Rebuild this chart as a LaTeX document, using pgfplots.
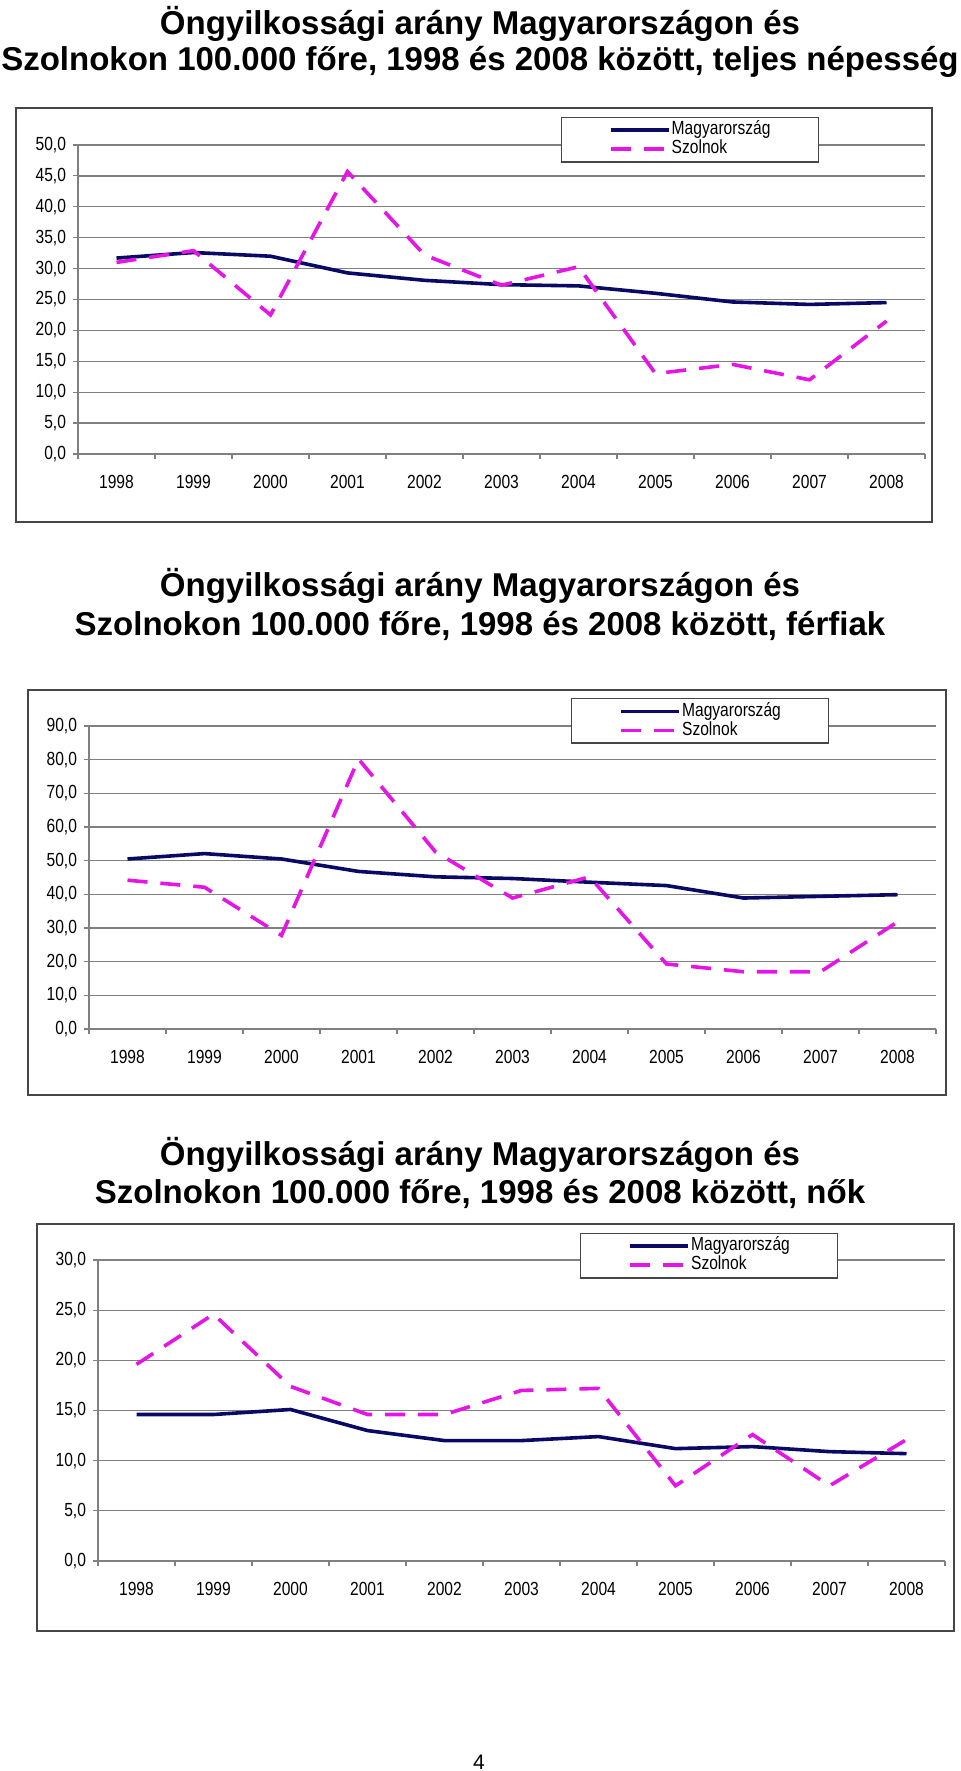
\documentclass[border=0pt]{standalone}
\usepackage{fontspec}
\setmainfont{Liberation Sans}
\newfontfamily\narrow{Liberation Sans}[FakeStretch=0.82]
\usepackage{pgfplots}
\pgfplotsset{compat=1.18}

\definecolor{navyline}{RGB}{10,10,100}
\definecolor{pinkline}{RGB}{230,20,230}
\definecolor{gridc}{RGB}{128,128,128}
\definecolor{framec}{RGB}{70,70,70}

\pgfplotsset{
  excelchart/.style={
    scale only axis,
    anchor=south west,
    width=423.5pt,
    xmin=0.5, xmax=11.5, ymin=0,
    axis x line*=bottom, axis y line*=left,
    axis line style={gridc, line width=0.7pt},
    ymajorgrids, grid style={gridc, line width=0.65pt},
    tick align=outside,
    major tick length=2.5pt, minor tick length=2.5pt,
    xtick={1,...,11},
    xticklabels={1998,1999,2000,2001,2002,2003,2004,2005,2006,2007,2008},
    minor xtick={0.5,1.5,...,11.5},
    major x tick style={draw=none},
    minor x tick style={gridc, line width=0.6pt},
    ytick style={gridc, line width=0.6pt},
    xticklabel style={font=\narrow\fontsize{9.5}{10}\selectfont, anchor=center, yshift=-11.5pt},
    yticklabel style={font=\narrow\fontsize{9.5}{10}\selectfont},
    /pgf/number format/.cd, fixed, zerofill, precision=1, use comma, assume math mode=true,
    /pgfplots/.cd,
    legend cell align=left,
    legend image code/.code={\draw[##1] (0pt,0pt) -- (29pt,0pt);},
    legend style={anchor=north west, draw=framec, line width=0.6pt,
      font=\narrow\fontsize{9.5}{9.5}\selectfont,
      inner xsep=24pt, inner ysep=2pt, row sep=0.8pt, column sep=0.5pt,
      nodes={inner sep=0pt, text height=6.7pt, text depth=2pt}},
  },
  hu/.style={navyline, line width=1.8pt},
  szo/.style={pinkline, line width=1.8pt, dash pattern=on 10pt off 6.5pt},
}

\begin{document}
\begin{tikzpicture}[x=1pt, y=1pt]
\path[use as bounding box] (0,0) rectangle (480,885.5);

% ---- teljes nepesseg ----
\node[anchor=base, font=\bfseries\fontsize{16.5}{19}\selectfont] at (240,868.3) {Öngyilkossági arány Magyarországon és};
\node[anchor=base, font=\bfseries\fontsize{16.5}{19}\selectfont] at (240,850.15) {Szolnokon 100.000 főre, 1998 és 2008 között, teljes népesség};
\draw[framec, line width=1pt] (8,624.5) rectangle (466,831.5);
\begin{axis}[excelchart, at={(39pt,658.5pt)}, height=154.5pt, ymax=50, ytick={0,5,...,50},
  legend style={at={(0.5697,1.0906)}}]
\addplot[hu] coordinates {(1,31.7) (2,32.6) (3,32.0) (4,29.3) (5,28.1) (6,27.4) (7,27.2) (8,26.0) (9,24.6) (10,24.2) (11,24.5)};
\addlegendentry{Magyarország}
\addplot[szo] coordinates {(1,31.0) (2,32.9) (3,22.5) (4,45.7) (5,32.2) (6,27.3) (7,30.3) (8,13.0) (9,14.5) (10,12.0) (11,21.5)};
\addlegendentry{Szolnok}
\end{axis}

% ---- ferfiak ----
\node[anchor=base, font=\bfseries\fontsize{16.5}{19}\selectfont] at (240,587.3) {Öngyilkossági arány Magyarországon és};
\node[anchor=base, font=\bfseries\fontsize{16.5}{19}\selectfont] at (240,567.65) {Szolnokon 100.000 főre, 1998 és 2008 között, férfiak};
\draw[framec, line width=1pt] (14,338) rectangle (473,540.5);
\begin{axis}[excelchart, at={(44.5pt,371pt)}, height=151.5pt, ymax=90, ytick={0,10,...,90},
  legend style={at={(0.569,1.0924)}}]
\addplot[hu] coordinates {(1,50.5) (2,52.1) (3,50.5) (4,46.8) (5,45.2) (6,44.7) (7,43.6) (8,42.6) (9,38.9) (10,39.4) (11,39.9)};
\addlegendentry{Magyarország}
\addplot[szo] coordinates {(1,44.2) (2,42.1) (3,27.8) (4,80.2) (5,52.6) (6,38.9) (7,45.2) (8,19.3) (9,17.0) (10,17.0) (11,31.8)};
\addlegendentry{Szolnok}
\end{axis}

% ---- nok ----
\node[anchor=base, font=\bfseries\fontsize{16.5}{19}\selectfont] at (240,302.7) {Öngyilkossági arány Magyarországon és};
\node[anchor=base, font=\bfseries\fontsize{16.5}{19}\selectfont] at (240,283.5) {Szolnokon 100.000 főre, 1998 és 2008 között, nők};
\draw[framec, line width=1pt] (18.35,70) rectangle (477,273.5);
\begin{axis}[excelchart, at={(49pt,105pt)}, height=150.5pt, ymax=30, ytick={0,5,...,30},
  legend style={at={(0.569,1.0897)}}]
\addplot[hu] coordinates {(1,14.6) (2,14.6) (3,15.1) (4,13.0) (5,12.0) (6,12.0) (7,12.4) (8,11.2) (9,11.4) (10,10.9) (11,10.7)};
\addlegendentry{Magyarország}
\addplot[szo] coordinates {(1,19.6) (2,24.6) (3,17.4) (4,14.6) (5,14.6) (6,17.0) (7,17.2) (8,7.5) (9,12.6) (10,7.5) (11,12.1)};
\addlegendentry{Szolnok}
\end{axis}

\node[anchor=base, font=\fontsize{10.5}{12}\selectfont] at (239.5,0.8) {4};
\end{tikzpicture}
\end{document}
